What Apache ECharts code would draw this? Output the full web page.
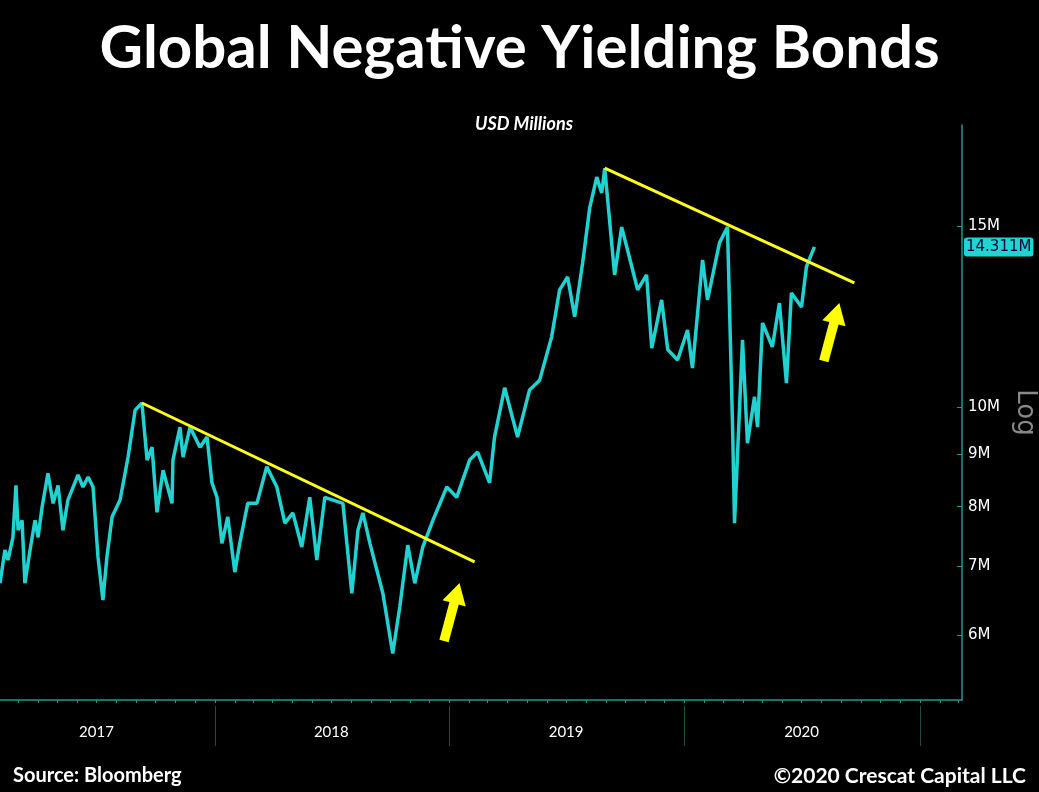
<!DOCTYPE html>
<html><head><meta charset="utf-8">
<script src="https://cdn.jsdelivr.net/npm/echarts@6/dist/echarts.min.js"></script>
<style>html,body{margin:0;background:#000}#c{width:1039px;height:792px}</style>
</head><body><div id="c"></div>
<script>
// fractional years
const dates = [2017.085,2017.106,2017.119,2017.140,2017.153,2017.162,2017.179,2017.191,2017.213,2017.234,2017.247,2017.264,2017.289,2017.311,2017.332,2017.353,2017.374,2017.417,2017.438,2017.460,2017.481,2017.502,2017.523,2017.540,2017.562,2017.596,2017.630,2017.660,2017.689,2017.711,2017.732,2017.753,2017.779,2017.817,2017.821,2017.851,2017.864,2017.894,2017.936,2017.966,2017.987,2018.009,2018.030,2018.055,2018.085,2018.106,2018.140,2018.179,2018.221,2018.264,2018.298,2018.332,2018.370,2018.404,2018.434,2018.468,2018.545,2018.583,2018.609,2018.630,2018.660,2018.715,2018.757,2018.787,2018.821,2018.851,2018.885,2018.928,2018.987,2019.030,2019.085,2019.119,2019.170,2019.191,2019.234,2019.289,2019.340,2019.383,2019.434,2019.468,2019.502,2019.532,2019.566,2019.596,2019.626,2019.647,2019.660,2019.702,2019.732,2019.757,2019.800,2019.838,2019.860,2019.902,2019.928,2019.970,2020.013,2020.034,2020.077,2020.098,2020.149,2020.183,2020.205,2020.213,2020.247,2020.268,2020.298,2020.311,2020.332,2020.374,2020.404,2020.434,2020.455,2020.498,2020.519,2020.553];
const values = [6.74,7.26,7.10,7.47,8.39,7.59,7.76,6.74,7.26,7.76,7.47,7.99,8.62,8.06,8.39,7.59,8.12,8.59,8.36,8.55,8.36,7.15,6.49,7.15,7.82,8.12,8.94,9.93,10.09,8.88,9.14,7.90,8.68,8.06,8.88,9.56,8.94,9.56,9.14,9.35,8.44,8.17,7.37,7.82,6.91,7.37,8.06,8.06,8.75,8.36,7.71,7.89,7.31,8.17,7.10,8.17,8.06,6.59,7.59,7.89,7.37,6.59,5.76,6.39,7.34,6.74,7.31,7.76,8.36,8.17,8.88,9.04,8.44,9.35,10.44,9.35,10.39,10.62,11.70,13.0,13.38,12.24,13.81,15.62,16.73,16.15,17.07,13.44,14.96,14.21,13.0,13.44,11.41,12.71,11.37,11.11,11.88,10.91,13.90,12.71,14.44,14.96,9.5,7.71,11.62,9.22,10.23,9.56,12.07,11.44,12.62,10.55,12.91,12.51,13.69,14.311];
const trend1Dates=[2017.689,2019.106], trend1Values=[10.09,7.07];
const trend2Dates=[2019.660,2020.723], trend2Values=[17.07,13.2];
const arrowDates=[2019.009,2020.626], arrowValues=[6.32,11.83];
const yTicks=[6,7,8,9,10,15];
const years=[2017,2018,2019,2020];
const lastValue=14.311;

const ts=f=>{const y=Math.floor(f);return Date.UTC(y,0,1)+(f-y)*365.25*864e5;};
const L=Math.log;
const pts=(d,v)=>d.map((x,i)=>[ts(x),L(v[i])]);
const months=[];for(let y=2017;y<=2021;y++)for(let m=0;m<12;m++){const t=Date.UTC(y,m,1);if(t>=ts(2017.085)&&t<=ts(2021.179))months.push(t);}
const xMin=ts(2017.085), xMax=ts(2021.179);
const teal='#1a9a96';
const chart=echarts.init(document.getElementById('c'));
chart.setOption({
 backgroundColor:'#000',animation:false,
 title:[{text:'Global Negative Yielding Bonds',left:'center',top:14,textStyle:{color:'#fff',fontSize:60,fontWeight:'bold',fontFamily:'Lato'}},
  {text:'USD Millions',left:519,textAlign:'center',top:110,textStyle:{color:'#fff',fontSize:18,fontWeight:'bold',fontStyle:'italic',fontFamily:'Lato'}},
  {text:'Source: Bloomberg',left:8,top:761,textStyle:{color:'#fff',fontSize:20,fontWeight:'bold',fontFamily:'Lato'}},
  {text:'©2020 Crescat Capital LLC',right:8,top:761,textStyle:{color:'#fff',fontSize:21,fontWeight:'bold',fontFamily:'Lato'}}],
 grid:{left:0,right:77,top:125,bottom:92,containLabel:false,outerBoundsMode:'none'},
 xAxis:[{type:'value',min:xMin,max:xMax,axisLine:{lineStyle:{color:teal,width:1.5}},
   axisTick:{customValues:months,length:3,lineStyle:{color:teal}},axisLabel:{show:false},splitLine:{show:false}},
  {type:'value',min:xMin,max:xMax,position:'bottom',offset:6,axisLine:{show:false},
   axisTick:{customValues:years.map(y=>Date.UTC(y+1,0,1)),length:40,lineStyle:{color:'#1d4a48'}},
   axisLabel:{customValues:years.map(y=>Date.UTC(y,6,1)),formatter:v=>String(new Date(v).getUTCFullYear()),color:'#fff',fontSize:15,fontFamily:'Lato',margin:19},splitLine:{show:false}}],
 yAxis:{type:'value',position:'right',min:L(5.19),max:L(18.8),
  name:'Log',nameLocation:'middle',nameRotate:-90,nameGap:50,nameTextStyle:{color:'#888',fontSize:26,fontFamily:'DejaVu Sans'},
  axisLine:{show:true,lineStyle:{color:teal,width:1.5}},
  axisTick:{show:true,inside:true,length:5,customValues:yTicks.map(L),lineStyle:{color:teal}},
  axisLabel:{customValues:yTicks.map(L),formatter:v=>Math.round(Math.exp(v))+'M',color:'#fff',fontSize:15,fontFamily:'DejaVu Sans',margin:6},
  splitLine:{show:false},
  axisPointer:{show:true,value:L(lastValue),status:'show',type:'line',lineStyle:{opacity:0},
   label:{show:true,formatter:()=>lastValue.toFixed(3)+'M',backgroundColor:'#22d3d3',color:'#003',fontSize:15,fontFamily:'DejaVu Sans',padding:[2,2],margin:2}}},
 axisPointer:{triggerOn:'none'},
 series:[
  {type:'line',data:pts(dates,values),showSymbol:false,symbol:'none',lineStyle:{color:'#20d2d2',width:3.5},z:2},
  {type:'line',data:pts(trend1Dates,trend1Values),symbol:'none',lineStyle:{color:'#ffff1a',width:3},z:3},
  {type:'line',data:pts(trend2Dates,trend2Values),symbol:'none',lineStyle:{color:'#ffff1a',width:3},z:3},
  {type:'scatter',data:pts(arrowDates,arrowValues),symbol:'path://M10,0 L20,14 L14,14 L14,40 L6,40 L6,14 L0,14 Z',symbolSize:[24,60],symbolRotate:-15,itemStyle:{color:'#ffff00',opacity:1},z:4}
 ]
});
</script></body></html>
